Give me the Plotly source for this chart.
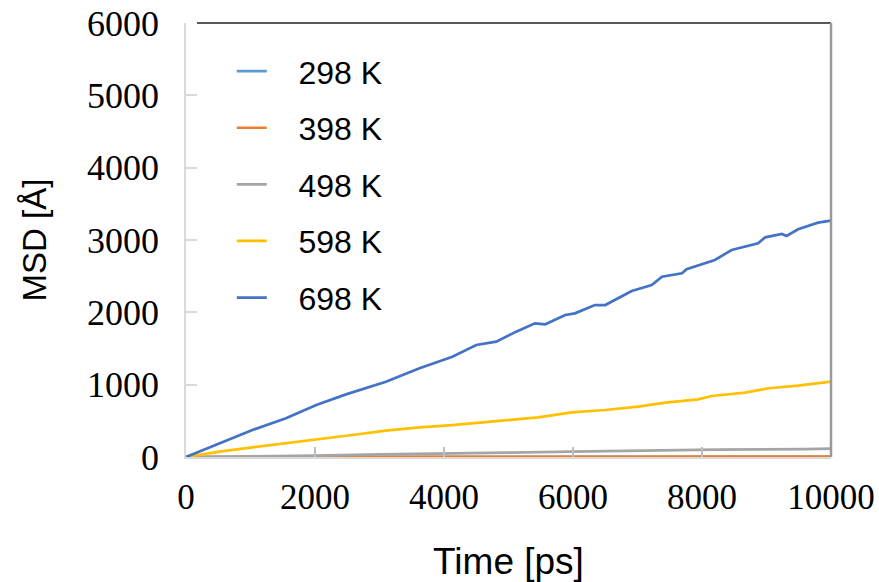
import plotly.graph_objects as go

# ---- data ----
names = ["298 K", "398 K", "498 K", "598 K", "698 K"]
colors = ["#5B9BD5", "#ED7D31", "#A5A5A5", "#FFC000", "#4472C4"]

t_298 = [0, 2000, 4000, 6000, 8000, 10000]
msd_298 = [0, 0.5, 0.8, 1.0, 1.2, 1.5]

t_398 = [0, 2000, 4000, 6000, 8000, 10000]
msd_398 = [0, 1, 2, 3, 4, 5]

t_498 = [0, 1400, 2000, 3000, 4000, 5000, 6000, 7100, 8200, 9600, 10000]
msd_498 = [0, 10, 18, 37, 45, 60, 74, 92, 101, 110, 115]

t_598 = [0, 520, 1030, 1550, 2020, 2580, 3100, 3620, 4130, 4650, 5120,
         5460, 5980, 6500, 7010, 7430, 7940, 8150, 8670, 9030, 9490, 10000]
msd_598 = [0, 74, 134, 189, 245, 304, 364, 410, 442, 488, 521,
           548, 617, 650, 696, 751, 797, 843, 889, 950, 986, 1041]

t_698 = [0, 520, 1030, 1550, 2020, 2480, 3100, 3620, 4130, 4500, 4810, 5120,
         5410, 5570, 5880, 6030, 6340, 6500, 6910, 7220, 7380, 7690, 7760,
         8200, 8460, 8870, 8980, 9240, 9310, 9490, 9800, 10000]
msd_698 = [0, 189, 373, 535, 719, 866, 1041, 1226, 1387, 1548, 1594, 1733,
           1848, 1834, 1963, 1986, 2101, 2101, 2295, 2378, 2493, 2540, 2595,
           2724, 2862, 2954, 3037, 3083, 3055, 3148, 3240, 3267]

x_ticks = [0, 2000, 4000, 6000, 8000, 10000]
y_ticks = [0, 1000, 2000, 3000, 4000, 5000, 6000]

series = [(t_298, msd_298), (t_398, msd_398), (t_498, msd_498),
          (t_598, msd_598), (t_698, msd_698)]

fig = go.Figure()
for i, ((tx, ty), name, col) in enumerate(zip(series, names, colors)):
    fig.add_trace(go.Scatter(
        x=tx, y=ty, mode="lines", name="\u00a0\u00a0\u00a0" + name,
        line=dict(color=col, width=2.7),
        legendgroup="g%d" % i,
    ))

serif = "Liberation Serif, Times New Roman, serif"
sans = "Liberation Sans, Arial, sans-serif"

fig.update_layout(
    width=879, height=582,
    margin=dict(l=186, r=48, t=23, b=125),
    paper_bgcolor="white", plot_bgcolor="white",
    showlegend=True,
    legend=dict(
        x=0.071, y=0.952, xanchor="left", yanchor="top",
        font=dict(family=sans, size=32, color="black"),
        bgcolor="rgba(0,0,0,0)", tracegroupgap=12,
        itemwidth=30,
    ),
    xaxis=dict(
        range=[0, 10000], tickvals=x_ticks,
        ticktext=[str(v) for v in x_ticks],
        ticks="inside", ticklen=10, tickcolor="#BFBFBF", tickwidth=1.5,
        showline=True, linecolor="#D9D9D9", linewidth=1.5,
        showgrid=False, zeroline=False, automargin=False,
        ticklabelstandoff=8,
        tickfont=dict(family=serif, size=35, color="black"),
        title=dict(text="Time [ps]", font=dict(family=sans, size=37, color="black"),
                   standoff=38),
    ),
    yaxis=dict(
        range=[0, 6000], tickvals=y_ticks,
        ticktext=[str(v) for v in y_ticks],
        ticks="inside", ticklen=11, tickcolor="#D9D9D9", tickwidth=1.5,
        showline=True, linecolor="#D9D9D9", linewidth=1.5,
        showgrid=False, zeroline=False, automargin=False,
        ticklabelstandoff=18,
        tickfont=dict(family=serif, size=36, color="black"),
        title=dict(text="MSD [Å]", font=dict(family=sans, size=33, color="black"),
                   standoff=30),
    ),
    shapes=[
        dict(type="line", xref="paper", yref="paper", x0=0.017, x1=1, y0=1, y1=1,
             line=dict(color="#222222", width=1.5)),
        dict(type="line", xref="paper", yref="paper", x0=1, x1=1, y0=0, y1=1,
             line=dict(color="#999999", width=2.5)),
    ],
)

fig.write_html("out.html", config={"displayModeBar": False},
               post_script="document.body.style.margin='0px';")
